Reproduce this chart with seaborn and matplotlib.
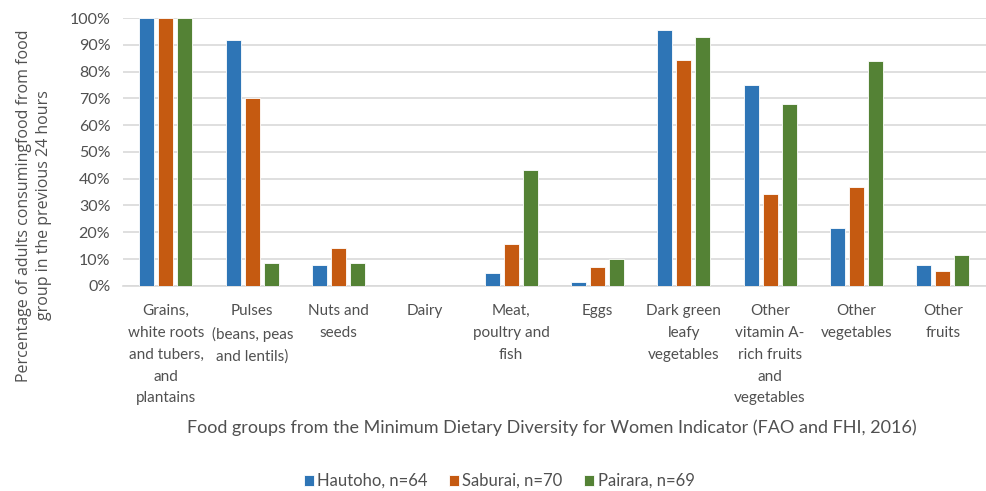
import pandas as pd
import matplotlib.pyplot as plt
import seaborn as sns

# Data
categories = [
    "Grains,\nwhite roots\nand tubers,\nand\nplantains",
    "Pulses\n(beans, peas\nand lentils)",
    "Nuts and\nseeds",
    "Dairy",
    "Meat,\npoultry and\nfish",
    "Eggs",
    "Dark green\nleafy\nvegetables",
    "Other\nvitamin A-\nrich fruits\nand\nvegetables",
    "Other\nvegetables",
    "Other\nfruits",
]
hautoho = [100, 92, 7.7, 0, 4.6, 1.4, 95.4, 75, 21.7, 7.7]
saburai = [100, 70, 14.2, 0, 15.6, 7.0, 84.3, 34.3, 37.0, 5.6]
pairara = [100, 8.5, 8.5, 0, 43.4, 10.0, 92.8, 68.1, 84.0, 11.5]
series = ["Hautoho, n=64", "Saburai, n=70", "Pairara, n=69"]
colors = ["#2E75B6", "#C55A11", "#548235"]

df = pd.DataFrame({"group": categories, series[0]: hautoho,
                   series[1]: saburai, series[2]: pairara})
long_df = df.melt(id_vars="group", var_name="site", value_name="pct")

sns.set_style("white")
plt.rcParams["font.family"] = ["Lato", "DejaVu Sans"]
txt = "#505050"

fig = plt.figure(figsize=(9.87, 4.91), dpi=100)
ax = fig.add_axes([0.1244, 0.418, 0.8745, 0.545])

sns.barplot(data=long_df, x="group", y="pct", hue="site", palette=colors,
            saturation=1, width=0.66, edgecolor="white", linewidth=0.6,
            ax=ax, zorder=3)

# narrow each bar a bit so that the white gaps between them show
for p in ax.patches:
    w = p.get_width()
    if w > 0:
        nw = w * 0.79
        p.set_x(p.get_x() + (w - nw) / 2)
        p.set_width(nw)

ax.set_ylim(0, 100)
ax.set_yticks(range(0, 101, 10))
ax.set_yticklabels([f"{v}%" for v in range(0, 101, 10)], fontsize=11.5, color=txt)
ax.set_xlim(-0.5, len(categories) - 0.5)
ax.tick_params(axis="x", labelsize=11, labelcolor=txt, length=0, pad=13)
ax.tick_params(axis="y", length=0, pad=9)
for lbl in ax.get_xticklabels():
    lbl.set_linespacing(1.72)
    lbl.set_verticalalignment("top")

ax.yaxis.grid(True, color="#d9d9d9", linewidth=1.2, zorder=0)
for s in ["top", "right", "left"]:
    ax.spines[s].set_visible(False)
ax.spines["bottom"].set_color("#d9d9d9")
ax.spines["bottom"].set_linewidth(1.2)

ax.set_xlabel("Food groups from the Minimum Dietary Diversity for Women Indicator (FAO and FHI, 2016)",
              fontsize=13, color=txt)
ax.xaxis.set_label_coords(0.497, -0.50)
ax.set_ylabel("Percentage of adults consumingfood from food\ngroup in the previous 24 hours",
              fontsize=11.5, color=txt, family=["Open Sans", "DejaVu Sans"], linespacing=1.35)
ax.yaxis.set_label_coords(-0.082, 0.30)

handles, labels = ax.get_legend_handles_labels()
ax.legend(handles, labels, loc="center", bbox_to_anchor=(0.436, -0.73), ncol=3,
          frameon=False, fontsize=12, handlelength=0.6, handleheight=0.6,
          handletextpad=0.2, columnspacing=1.3, labelcolor=txt)

fig.savefig("out.png", dpi=100)
